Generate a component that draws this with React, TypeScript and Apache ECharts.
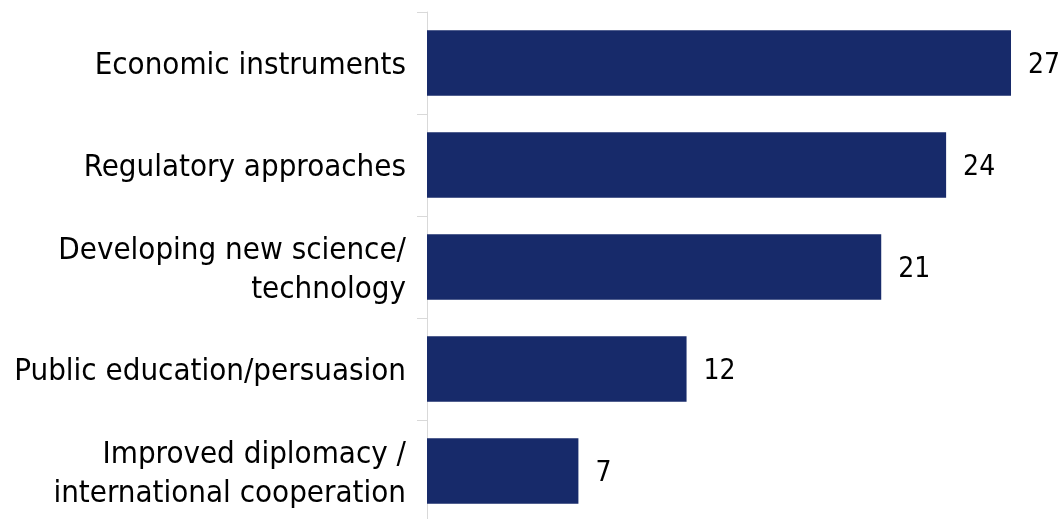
import React, { useEffect, useRef } from "react";
import * as echarts from "echarts";

const categories = [
  "Economic instruments",
  "Regulatory approaches",
  "Developing new science/\ntechnology",
  "Public education/persuasion",
  "Improved diplomacy /\ninternational cooperation",
];
const values = [27, 24, 21, 12, 7];

const FONT = "'DejaVu Sans Condensed', 'Liberation Sans', sans-serif";

export default function App() {
  const ref = useRef<HTMLDivElement>(null);
  useEffect(() => {
    const chart = echarts.init(ref.current!, null, { renderer: "svg" });
    chart.setOption({
      animation: false,
      grid: { left: 427, top: 12, right: 0, height: 510, containLabel: false },
      xAxis: {
        type: "value",
        min: 0,
        max: 29.45,
        show: false,
      },
      yAxis: {
        type: "category",
        data: categories,
        inverse: true,
        axisLine: { show: true, lineStyle: { color: "#d9d9d9", width: 1 } },
        axisTick: { show: true, length: 10, lineStyle: { color: "#d9d9d9" } },
        axisLabel: {
          margin: 21,
          color: "#000",
          fontFamily: FONT,
          fontSize: 31,
          lineHeight: 39,
        },
      },
      series: [
        {
          type: "bar",
          data: values,
          barCategoryGap: "36%",
          itemStyle: { color: "#172a6a" },
          label: {
            show: true,
            position: "right",
            distance: 17,
            color: "#000",
            fontFamily: FONT,
            fontSize: 28,
          },
        },
      ],
    });
    return () => chart.dispose();
  }, []);
  return (
    <div
      ref={ref}
      style={{ position: "fixed", left: 0, top: 0, width: 1064, height: 530 }}
    />
  );
}
